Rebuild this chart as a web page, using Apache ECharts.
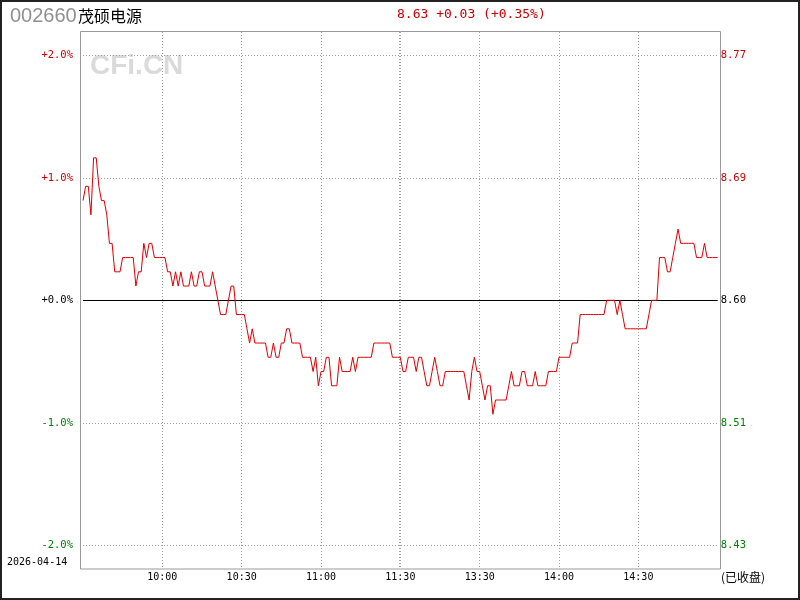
<!DOCTYPE html>
<html>
<head>
<meta charset="utf-8">
<script src="https://cdn.jsdelivr.net/npm/echarts@6/dist/echarts.min.js"></script>
<style>
html,body{margin:0;padding:0;background:#fff;}
#main{width:800px;height:600px;}
</style>
</head>
<body>
<div id="main"></div>
<script>
// ---- data ----
const stockCode = '002660';
const stockName = '茂硕电源';
const lastPrice = 8.63;
const prevClose = 8.60;
const tradeDate = '2026-04-14';
const statusText = '(已收盘)';
const tickLabels = ['10:00', '10:30', '11:00', '11:30', '13:30', '14:00', '14:30'];
const breakLabel = '11:30';

// minute prices 9:30..11:30 then 13:01..15:00 (241 points)
const prices = [
8.67,8.68,8.68,8.66,8.70,8.70,8.68,8.67,8.67,8.66,
8.64,8.64,8.62,8.62,8.62,8.63,8.63,8.63,8.63,8.63,
8.61,8.62,8.62,8.64,8.63,8.64,8.64,8.63,8.63,8.63,
8.63,8.63,8.62,8.62,8.61,8.62,8.61,8.62,8.61,8.61,
8.61,8.62,8.61,8.61,8.62,8.62,8.61,8.61,8.61,8.62,
8.61,8.60,8.59,8.59,8.59,8.60,8.61,8.61,8.59,8.59,
8.59,8.59,8.58,8.57,8.58,8.57,8.57,8.57,8.57,8.57,
8.56,8.56,8.57,8.56,8.56,8.57,8.57,8.58,8.58,8.57,
8.57,8.57,8.57,8.56,8.56,8.56,8.56,8.55,8.56,8.54,
8.55,8.55,8.56,8.56,8.54,8.54,8.54,8.56,8.55,8.55,
8.55,8.55,8.56,8.55,8.56,8.56,8.56,8.56,8.56,8.56,
8.57,8.57,8.57,8.57,8.57,8.57,8.57,8.56,8.56,8.56,
8.56,8.55,8.55,8.56,8.56,8.56,8.55,8.56,8.56,8.55,
8.54,8.54,8.55,8.56,8.55,8.54,8.54,8.55,8.55,8.55,
8.55,8.55,8.55,8.55,8.55,8.54,8.53,8.55,8.56,8.55,
8.55,8.54,8.53,8.54,8.54,8.52,8.53,8.53,8.53,8.53,
8.53,8.54,8.55,8.54,8.54,8.54,8.55,8.55,8.54,8.54,
8.54,8.55,8.54,8.54,8.54,8.54,8.55,8.55,8.55,8.55,
8.56,8.56,8.56,8.56,8.56,8.57,8.57,8.57,8.59,8.59,
8.59,8.59,8.59,8.59,8.59,8.59,8.59,8.59,8.60,8.60,
8.60,8.60,8.59,8.60,8.59,8.58,8.58,8.58,8.58,8.58,
8.58,8.58,8.58,8.58,8.59,8.60,8.60,8.60,8.63,8.63,
8.63,8.62,8.62,8.63,8.64,8.65,8.64,8.64,8.64,8.64,
8.64,8.64,8.63,8.63,8.63,8.64,8.63,8.63,8.63,8.63,
8.63
];

// time categories
function pad(n){return (n<10?'0':'')+n;}
const times = [];
for (let i = 0; i < prices.length; i++) {
  let m = i <= 120 ? 9*60+30+i : 13*60+(i-120);
  times.push(pad(Math.floor(m/60)) + ':' + pad(m%60));
}

const RED = '#c80000', GREEN = '#008000', BLACK = '#000';
const pctMax = 2;
const change = lastPrice - prevClose;
const headerText = lastPrice.toFixed(2) + ' ' + (change>=0?'+':'') + change.toFixed(2) +
  ' (' + (change>=0?'+':'') + (change/prevClose*100).toFixed(2) + '%)';

const chart = echarts.init(document.getElementById('main'), null, {renderer:'canvas'});
const mono = 'DejaVu Sans Mono';

const option = {
  animation: false,
  backgroundColor: '#fff',
  grid: [
    {left: 83, right: 82.3, top: 55.3, bottom: 54.7},
    {left: 83, right: 82.3, top: 32, bottom: 31},
    {left: 81.5, right: 83.8, top: 32, bottom: 31}
  ],
  xAxis: [
    {type:'category', gridIndex:0, data: times, boundaryGap:false, show:false},
    {type:'category', gridIndex:1, data: times, boundaryGap:false,
      axisLine:{show:false}, axisTick:{show:false},
      axisLabel:{interval:(i,v)=>tickLabels.includes(v), margin:3, color:'#000',
        fontFamily:mono, fontSize:10},
      splitLine:{show:true, interval:(i,v)=>tickLabels.includes(v),
        lineStyle:{color:'#a0a0a0', width:1, type:[1,2]}}},
    {type:'category', gridIndex:2, data: times, boundaryGap:false,
      axisLine:{show:false}, axisTick:{show:false}, axisLabel:{show:false},
      splitLine:{show:true, interval:(i,v)=>v===breakLabel,
        lineStyle:{color:'#a0a0a0', width:1, type:[1,2]}}}
  ],
  yAxis: [
    {type:'value', gridIndex:0, position:'left', min:-pctMax, max:pctMax, interval:1,
      axisLine:{show:false}, axisTick:{show:false},
      axisLabel:{margin:10, fontFamily:mono, fontSize:10.5,
        formatter:v=>(v>=0?'+':'')+Number(v).toFixed(1)+'%',
        color:v=>{v=Number(v); return v>0.001?RED:(v<-0.001?GREEN:BLACK);}},
      splitLine:{show:true, lineStyle:{color:'#a0a0a0', width:1, type:[1,2]}}},
    {type:'value', gridIndex:0, position:'right',
      min: +(prevClose*(1-pctMax/100)).toFixed(3), max: +(prevClose*(1+pctMax/100)).toFixed(3),
      interval: +(prevClose*0.01).toFixed(3),
      axisLine:{show:false}, axisTick:{show:false}, splitLine:{show:false},
      axisLabel:{margin:3, fontFamily:mono, fontSize:10.5,
        formatter:v=>Number(v).toFixed(2),
        color:v=>{v=Number(v); return v>prevClose+0.001?RED:(v<prevClose-0.001?GREEN:BLACK);}}},
    {type:'value', gridIndex:1, min:0, max:1, show:false},
    {type:'value', gridIndex:2, min:0, max:1, show:false}
  ],
  series: [{
    type:'line', xAxisIndex:0, yAxisIndex:1,
    data: prices, symbol:'none', smooth:false,
    lineStyle:{color:'#dd0000', width:1},
    z: 5,
    markLine:{silent:true, symbol:['none','none'], label:{show:false},
      lineStyle:{color:'#000', type:'solid', width:1},
      data:[{yAxis: prevClose}]}
  }],
  graphic: [
    {type:'rect', z:-10, silent:true, shape:{x:80.5, y:31.5, width:640, height:537.5},
      style:{fill:'none', stroke:'#999', lineWidth:1}},
    {type:'rect', z:100, silent:true, shape:{x:1, y:1, width:798, height:598},
      style:{fill:'none', stroke:'#222', lineWidth:2}},
    {type:'text', z:-5, left:90, top:52, silent:true,
      style:{text:'CFi.CN', fill:'#dadada', font:'bold 28px "Liberation Sans", Arial, sans-serif'}},
    {type:'text', left:10, top:6, silent:true,
      style:{text:stockCode, fill:'#909090', font:'20px "Liberation Sans", Arial, sans-serif'}},
    {type:'text', left:78, top:8, silent:true,
      style:{text:stockName, fill:'#000', font:'16px "Noto Sans CJK SC", sans-serif'}},
    {type:'text', left:397, top:8, silent:true,
      style:{text:headerText, fill:RED, font:'13px "DejaVu Sans Mono", monospace'}},
    {type:'text', left:7, top:557, silent:true,
      style:{text:tradeDate, fill:'#000', font:'10px "DejaVu Sans Mono", monospace'}},
    {type:'text', left:721, top:571, silent:true,
      style:{text:statusText, fill:'#000', font:'12px "Noto Sans CJK SC", sans-serif'}}
  ]
};
chart.setOption(option);
</script>
</body>
</html>
